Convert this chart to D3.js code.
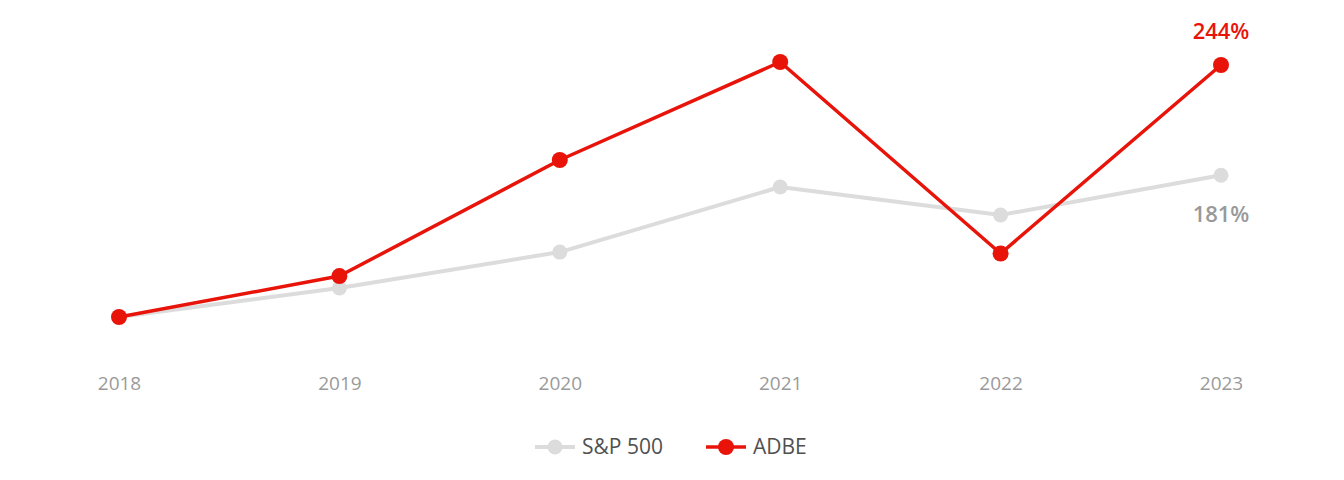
<!DOCTYPE html>
<html>
<head>
<meta charset="utf-8">
<script src="https://cdn.jsdelivr.net/npm/d3@7"></script>
<style>
  html, body { margin: 0; padding: 0; background: #fff; }
  svg { display: block; font-family: "Open Sans", "Noto Sans", sans-serif; }
</style>
</head>
<body>
<svg id="chart" width="1344" height="480"></svg>
<script>
const years = ["2018", "2019", "2020", "2021", "2022", "2023"];
const sp500 = [100, 116.6, 137.1, 174.3, 158.3, 181];
const adbe = [100, 123.4, 189.7, 245.7, 136.3, 244];
const seriesNames = ["S&P 500", "ADBE"];
const endLabels = ["181%", "244%"];

const colors = { sp: "#dcdcdc", adbe: "#e8140a", axis: "#9a9a9a", legend: "#505050", spLabel: "#999999" };

const svg = d3.select("#chart");
const x = d3.scalePoint().domain(years).range([119, 1221]);
const y = d3.scaleLinear().domain([80, 260]).range([352, 37]);

// x axis (labels only)
const xAxis = d3.axisBottom(x).tickSize(0).tickPadding(0);
const gx = svg.append("g").attr("transform", "translate(0,376)").call(xAxis);
gx.select(".domain").remove();
gx.selectAll("text")
  .attr("fill", colors.axis)
  .attr("font-size", 19)
  .attr("font-family", "'Open Sans', sans-serif")
  .attr("dy", "0.71em");

const line = d3.line().x((d, i) => x(years[i])).y(d => y(d));

function drawSeries(values, color, width, r) {
  svg.append("path").datum(values)
    .attr("d", line)
    .attr("fill", "none")
    .attr("stroke", color)
    .attr("stroke-width", width)
    .attr("stroke-linejoin", "round");
  svg.append("g").selectAll("circle").data(values).join("circle")
    .attr("cx", (d, i) => x(years[i]))
    .attr("cy", d => y(d))
    .attr("r", r)
    .attr("fill", color);
}

drawSeries(sp500, colors.sp, 4, 7.5);
drawSeries(adbe, colors.adbe, 3.5, 8);

// end labels
svg.append("text")
  .attr("x", x(years[5]))
  .attr("y", y(sp500[5]) + 47)
  .attr("text-anchor", "middle")
  .attr("font-size", 22)
  .attr("font-weight", 600)
  .attr("fill", colors.spLabel)
  .text(endLabels[0]);
svg.append("text")
  .attr("x", x(years[5]))
  .attr("y", y(adbe[5]) - 26)
  .attr("text-anchor", "middle")
  .attr("font-size", 22)
  .attr("font-weight", 600)
  .attr("fill", colors.adbe)
  .text(endLabels[1]);

// legend
const legendItems = [
  { name: seriesNames[0], color: colors.sp, x: 535, sw: 4, r: 7.5 },
  { name: seriesNames[1], color: colors.adbe, x: 706, sw: 3.5, r: 8 }
];
const lg = svg.append("g");
legendItems.forEach(it => {
  const g = lg.append("g").attr("transform", `translate(${it.x},447)`);
  g.append("line").attr("x1", 0).attr("x2", 40).attr("y1", 0).attr("y2", 0)
    .attr("stroke", it.color).attr("stroke-width", it.sw);
  g.append("circle").attr("cx", 20).attr("cy", 0).attr("r", it.r).attr("fill", it.color);
  g.append("text").attr("x", 47).attr("y", 0).attr("dy", "0.35em")
    .attr("font-size", 21).attr("fill", colors.legend).text(it.name);
});
</script>
</body>
</html>
